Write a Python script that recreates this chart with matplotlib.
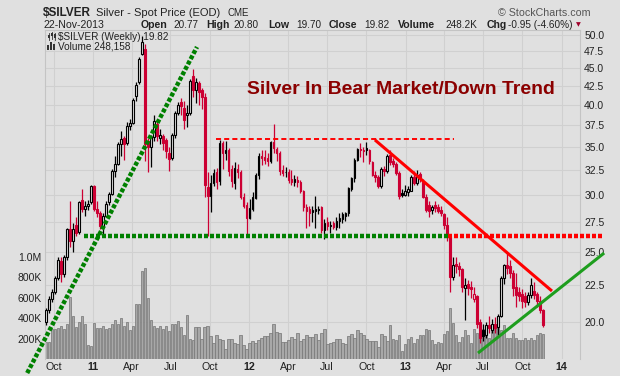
import matplotlib
matplotlib.use('Agg')
import matplotlib.pyplot as plt
import matplotlib.dates as mdates
from matplotlib.transforms import blended_transform_factory
from matplotlib.ticker import NullLocator, FixedLocator, FixedFormatter
from matplotlib.lines import Line2D
from matplotlib.patches import Rectangle
import pandas as pd

plt.rcParams['font.family'] = ['Liberation Sans', 'DejaVu Sans']

W, H = 620, 376
BG = '#e0e0e0'
GRID = '#d0d0d0'
RED = '#cc0033'
TXT = '#222222'

# ---------------- data (weekly, $SILVER) ----------------
first_week = '2010-09-13'
opens = [20.0, 20.8, 21.5, 22.0, 23.0, 24.3, 23.3, 24.6, 26.9, 25.9,
         27.3, 26.7, 29.5, 28.7, 29.0, 29.3, 30.9, 28.7, 28.3, 27.1,
         28.1, 29.3, 30.1, 32.4, 33.1, 35.3, 36.0, 35.4, 37.4, 37.8,
         41.2, 43.0, 47.1, 47.8, 35.6, 35.0, 36.1, 37.6, 36.0, 36.2,
         35.8, 34.3, 33.8, 36.4, 39.0, 40.4, 39.6, 38.7, 39.0, 43.9,
         42.0, 42.9, 41.9, 41.0, 30.8, 29.9, 31.2, 32.3, 31.4, 35.4,
         34.3, 34.6, 32.6, 31.2, 32.6, 32.3, 29.8, 29.1, 27.9, 28.7,
         29.7, 32.0, 34.0, 33.9, 33.8, 33.4, 35.5, 34.8, 34.3, 32.5,
         32.25, 32.3, 31.6, 31.3, 31.5, 31.3, 30.4, 28.9, 28.7, 28.4,
         28.5, 28.6, 28.9, 26.8, 27.5, 27.2, 27.4, 27.1, 27.6, 27.8,
         28.1, 28.3, 30.6, 31.7, 33.6, 34.8, 34.6, 34.9, 34.6, 33.3,
         32.0, 31.8, 30.9, 32.6, 32.4, 34.1, 33.4, 33.1, 32.2, 30.2,
         30.0, 30.3, 30.4, 31.8, 31.2, 32.1, 31.3, 29.8, 29.1, 28.6,
         29.1, 28.9, 28.6, 28.2, 27.3, 26.2, 23.1, 24.1, 23.9, 23.7,
         22.3, 22.6, 22.4, 21.5, 21.7, 20.0, 19.5, 19.2, 19.8, 19.5,
         19.9, 19.7, 20.4, 23.0, 24.0, 23.9, 23.4, 22.4, 22.0, 21.9,
         21.7, 21.3, 21.8, 22.1, 21.9, 21.4, 20.77]
highs = [20.9, 21.7, 22.2, 23.2, 24.6, 24.6, 24.8, 27.0, 29.4, 27.4,
         28.0, 29.4, 30.6, 29.4, 29.5, 31.0, 31.0, 29.4, 28.5, 28.3,
         29.4, 30.3, 32.6, 34.0, 35.5, 36.8, 36.2, 37.9, 38.2, 40.9,
         43.0, 46.7, 49.8, 48.6, 36.0, 36.4, 38.7, 38.3, 37.0, 36.5,
         36.0, 35.0, 36.6, 39.3, 40.4, 40.9, 40.5, 40.0, 43.4, 44.9,
         43.6, 43.2, 42.2, 41.5, 32.3, 32.0, 32.6, 32.7, 35.8, 35.6,
         35.7, 34.9, 33.0, 33.3, 33.1, 32.5, 30.2, 29.3, 29.6, 30.3,
         32.2, 34.3, 34.6, 34.6, 34.3, 35.6, 37.6, 35.0, 34.5, 33.0,
         32.8, 32.6, 32.5, 32.0, 31.9, 31.5, 30.5, 29.2, 29.0, 29.0,
         29.9, 29.0, 29.0, 27.8, 28.0, 27.6, 27.6, 28.0, 28.3, 28.4,
         28.4, 30.8, 31.8, 33.8, 34.9, 35.4, 35.0, 35.5, 34.8, 33.5,
         32.4, 32.0, 32.8, 32.9, 34.2, 34.6, 33.8, 33.3, 32.4, 30.6,
         31.0, 30.9, 32.0, 32.4, 32.5, 32.3, 31.6, 30.1, 29.4, 29.1,
         29.4, 29.2, 29.0, 28.3, 28.0, 26.4, 24.6, 24.6, 24.2, 23.8,
         23.0, 22.9, 22.8, 22.4, 21.8, 20.2, 19.9, 20.0, 20.4, 20.2,
         20.3, 20.5, 23.2, 24.1, 25.0, 24.4, 23.6, 23.4, 22.4, 22.2,
         22.0, 22.0, 23.0, 22.7, 22.0, 21.7, 20.85]
lows = [19.8, 20.6, 21.3, 21.9, 22.9, 22.7, 23.1, 24.4, 25.4, 25.0,
        26.3, 26.5, 28.4, 28.1, 28.6, 29.2, 28.5, 28.0, 26.9, 26.4,
        28.0, 29.1, 30.0, 31.8, 33.0, 34.0, 33.6, 35.2, 36.9, 37.6,
        40.5, 42.8, 46.9, 33.4, 32.3, 32.8, 35.7, 35.6, 35.3, 34.6,
        33.8, 32.4, 33.6, 36.0, 38.8, 38.8, 37.0, 37.3, 38.8, 41.0,
        40.2, 40.0, 39.5, 29.8, 26.3, 28.4, 30.9, 30.6, 31.0, 32.6,
        33.6, 31.9, 30.8, 30.6, 31.7, 29.6, 28.8, 26.2, 27.8, 28.5,
        29.6, 31.6, 33.0, 33.1, 32.9, 33.2, 34.3, 33.5, 32.0, 31.9,
        31.8, 31.2, 31.0, 30.9, 30.8, 30.2, 28.5, 27.0, 27.2, 27.5,
        27.0, 28.2, 26.6, 26.1, 26.8, 26.6, 26.9, 26.8, 27.0, 27.4,
        27.6, 28.1, 30.4, 31.3, 33.4, 33.9, 33.3, 34.1, 33.1, 31.9,
        31.3, 30.7, 30.7, 31.9, 32.2, 33.0, 32.8, 32.0, 29.6, 29.8,
        29.9, 29.9, 30.4, 31.0, 31.0, 31.3, 29.7, 28.4, 28.0, 28.2,
        28.4, 28.3, 28.1, 26.9, 25.9, 22.0, 22.9, 23.4, 23.2, 22.0,
        20.1, 21.8, 21.6, 21.3, 19.6, 18.7, 18.8, 19.0, 19.3, 19.3,
        19.3, 19.2, 20.3, 22.6, 23.3, 23.0, 21.7, 21.0, 21.4, 20.9,
        21.0, 21.1, 21.6, 21.5, 21.0, 20.6, 19.70]
closes = [20.8, 21.5, 22.0, 23.0, 24.4, 23.3, 24.6, 26.9, 25.9, 26.9,
          26.6, 29.3, 28.7, 29.0, 29.2, 30.9, 28.7, 28.3, 27.2, 28.1,
          29.2, 30.1, 32.4, 33.1, 35.3, 35.9, 35.3, 37.4, 37.8, 40.7,
          42.6, 46.4, 48.9, 35.3, 35.0, 36.1, 38.0, 36.2, 36.3, 35.4,
          34.5, 33.7, 36.4, 39.0, 40.0, 39.9, 38.1, 39.0, 43.2, 42.0,
          43.1, 41.7, 41.0, 31.0, 29.9, 31.2, 32.2, 31.3, 35.4, 34.3,
          34.7, 32.4, 31.4, 32.7, 32.3, 29.8, 29.0, 27.9, 28.8, 29.8,
          32.0, 34.0, 33.8, 33.6, 33.4, 35.5, 34.9, 34.3, 32.4, 32.2,
          32.3, 31.5, 31.3, 31.6, 31.3, 30.4, 28.9, 28.5, 28.3, 28.6,
          28.65, 28.7, 26.8, 27.4, 27.2, 27.3, 27.1, 27.6, 27.9, 28.2,
          28.3, 30.7, 31.7, 33.6, 34.8, 34.6, 34.5, 34.6, 33.4, 32.0,
          31.8, 30.9, 32.6, 32.4, 34.0, 33.3, 33.1, 32.2, 29.9, 30.0,
          30.4, 30.6, 31.8, 31.2, 32.0, 31.7, 29.8, 28.6, 28.5, 28.9,
          28.8, 28.5, 28.3, 27.3, 26.3, 23.1, 24.0, 23.9, 23.7, 22.4,
          22.5, 22.3, 22.2, 21.9, 19.9, 19.0, 19.1, 19.8, 19.6, 19.9,
          19.6, 20.4, 23.0, 24.0, 23.8, 23.4, 22.3, 21.8, 21.7, 21.4,
          21.3, 21.8, 22.5, 21.8, 21.4, 20.77, 19.82]
volumes_k = [166, 166, 296, 296, 305, 318, 296, 345, 605, 416,
             312, 357, 416, 345, 140, 130, 351, 302, 302, 318,
             296, 302, 345, 377, 338, 400, 318, 360, 286, 320,
             540, 540, 855, 890, 598, 377, 325, 302, 325, 293,
             325, 273, 345, 345, 370, 312, 231, 432, 198, 182,
             312, 312,
             200, 315, 325, 224, 153, 230, 200, 185, 94, 192,
             200, 160, 143, 230, 133, 100, 153, 172, 153, 185,
             208, 227, 224, 250, 338, 260, 250, 162, 162, 185,
             218, 195, 250, 179, 192, 230, 211, 211, 240, 185,
             250, 289, 143, 156, 162, 192, 192, 153, 143, 224,
             240, 208, 283, 257, 230, 200, 175, 175, 175, 120,
             240, 224, 175, 328, 200, 185, 230, 81, 143,
             200, 215,
             159, 192, 234, 234, 289, 283, 185, 143, 169, 153,
             240, 270, 494, 348, 234, 169, 218, 283, 234, 153,
             289, 257, 201, 289, 266, 201, 315, 299, 338, 283,
             331, 201, 201, 250, 201, 185, 185, 201, 185, 201,
             185, 234, 250,
             248]

quarter_dates = ['2010-10-01', '2011-01-01', '2011-04-01', '2011-07-01',
                 '2011-10-01', '2012-01-01', '2012-04-01', '2012-07-01',
                 '2012-10-01', '2013-01-01', '2013-04-01', '2013-07-01',
                 '2013-10-01', '2014-01-01']
quarter_labels = ['Oct', '11', 'Apr', 'Jul', 'Oct', '12', 'Apr', 'Jul',
                  'Oct', '13', 'Apr', 'Jul', 'Oct', '14']
price_ticks = [20.0, 22.5, 25.0, 27.5, 30.0, 32.5, 35.0, 37.5, 40.0,
               42.5, 45.0, 47.5, 50.0]
volume_ticks = [200e3, 400e3, 600e3, 800e3, 1.0e6]
volume_labels = ['200K', '400K', '600K', '800K', '1.0M']

# trend-line annotations (date, price)
uptrend_dates = ['2010-07-31', '2011-09-01']
uptrend_prices = [16.99, 48.15]
support_dates = ['2010-12-10', '2013-04-10']
broken_support_dates = ['2013-04-10', '2014-04-10']
support_level = 26.3
resist_dates = ['2011-10-15', '2013-04-24']
resist_level = 35.9
down_dates = ['2012-10-21', '2013-12-09']
down_prices = [35.78, 22.08]
rising_dates = ['2013-06-19', '2014-04-10']
rising_prices = [18.11, 24.93]

# ---------------- figure ----------------
fig = plt.figure(figsize=(W / 100, H / 100), dpi=100, facecolor=BG)


def fx(x):
    return x / W


def fy(y):
    return 1 - y / H


L, R, T, B = 45, 580, 30, 359
rect = [fx(L), fy(B), (R - L) / W, (B - T) / H]
axv = fig.add_axes(rect)
ax = fig.add_axes(rect, sharex=axv)
axv.set_zorder(0)
ax.set_zorder(1)
ax.patch.set_visible(False)
axv.set_facecolor(BG)

dates = pd.date_range(first_week, periods=len(closes), freq='W-MON')
xd = mdates.date2num(dates)
px_per_day = 0.4277
x0 = xd[0] - 1.0 / px_per_day
x1 = x0 + (R - L) / px_per_day
axv.set_xlim(x0, x1)

# volume
vols = [v * 1000 for v in volumes_k]
axv.bar(xd, vols, width=5.6, color='#a8a8a8', edgecolor='#7a7a7a',
        linewidth=0.55, zorder=2)
axv.set_ylim(0, 3.21e6)

# price candles
ax.set_yscale('log')
ax.set_ylim(17.77, 50.83)
cols, faces, bottoms, heights = [], [], [], []
for i in range(len(closes)):
    prev = closes[i - 1] if i > 0 else opens[i]
    c = 'black' if closes[i] >= prev else RED
    cols.append(c)
    faces.append(BG if closes[i] > opens[i] else c)
    lo, hi = min(opens[i], closes[i]), max(opens[i], closes[i])
    bottoms.append(lo)
    heights.append(max(hi - lo, 0.03))
ax.vlines(xd, lows, highs, colors=cols, linewidth=0.9, zorder=2)
ax.bar(xd, heights, bottom=bottoms, width=3.9, color=faces,
       edgecolor=cols, linewidth=0.8, zorder=3)

# grids
for q in quarter_dates:
    axv.axvline(mdates.date2num(pd.Timestamp(q)), color=GRID, lw=0.8, zorder=0.5)
hgrid_tr = blended_transform_factory(axv.transAxes, ax.transData)
for p in price_ticks:
    axv.plot([0, 1], [p, p], transform=hgrid_tr, color=GRID, lw=0.8, zorder=0.5)

# ticks
qnum = [mdates.date2num(pd.Timestamp(q)) for q in quarter_dates]
axv.xaxis.set_major_locator(FixedLocator(qnum))
axv.xaxis.set_major_formatter(FixedFormatter(quarter_labels))
axv.tick_params(axis='x', length=0, pad=2.5, labelsize=7.7, labelcolor=TXT)
for lab, txt in zip(axv.get_xticklabels(), quarter_labels):
    if txt.isdigit():
        lab.set_fontweight('bold')
ax.tick_params(axis='x', bottom=False, labelbottom=False)

axv.yaxis.set_major_locator(FixedLocator(volume_ticks))
axv.yaxis.set_major_formatter(FixedFormatter(volume_labels))
axv.tick_params(axis='y', length=0, pad=2.5, labelsize=7.5, labelcolor=TXT)

ax.yaxis.tick_right()
ax.yaxis.set_major_locator(FixedLocator(price_ticks))
ax.yaxis.set_major_formatter(FixedFormatter(['%.1f' % p for p in price_ticks]))
ax.yaxis.set_minor_locator(NullLocator())
ax.tick_params(axis='y', which='both', length=0, pad=3, labelsize=7.5,
               labelcolor=TXT)

for s in ax.spines.values():
    s.set_visible(False)
for k, s in axv.spines.items():
    s.set_color('#c4c4c4')
    s.set_linewidth(0.8)
axv.spines['right'].set_linestyle((0, (1, 1)))
axv.spines['bottom'].set_visible(False)

# trend lines
def dn(lst):
    return [mdates.date2num(pd.Timestamp(d)) for d in lst]

dot = (0, (0.9, 0.45))
ax.plot(dn(uptrend_dates), uptrend_prices, color='#008000', lw=3.2,
        linestyle=dot, dash_capstyle='butt', zorder=5, clip_on=False)
ax.plot(dn(support_dates), [support_level] * 2, color='#008000', lw=3.2,
        linestyle=dot, dash_capstyle='butt', zorder=5)
ax.plot(dn(broken_support_dates), [support_level] * 2, color='#ff0000', lw=3.2,
        linestyle=dot, dash_capstyle='butt', zorder=5, clip_on=False)
ax.plot(dn(resist_dates), [resist_level] * 2, color='#ff0000', lw=1.4,
        linestyle=(0, (2.6, 1.6)), dash_capstyle='butt', zorder=5)
ax.plot(dn(down_dates), down_prices, color='#ff0000', lw=2.2,
        solid_capstyle='butt', zorder=5)
ax.plot(dn(rising_dates), rising_prices, color='#1e9e1e', lw=2.2,
        solid_capstyle='butt', zorder=5, clip_on=False)

ax.text(fx(247), fy(93.5), 'Silver In Bear Market/Down Trend',
        transform=fig.transFigure, fontsize=13.95, fontweight='bold',
        color='#8b0000', va='baseline', ha='left', zorder=6)

# header texts
def T(x, y, s, **kw):
    kw.setdefault('color', TXT)
    kw.setdefault('va', 'baseline')
    fig.text(fx(x), fy(y), s, **kw)

T(43, 16, '$SILVER', fontsize=8.5, fontweight='bold')
T(96, 16, 'Silver - Spot Price (EOD)', fontsize=8)
T(227, 16, 'CME', fontsize=7)
T(590, 16, '\u00a9 StockCharts.com', fontsize=7.7, ha='right', color='#555555')
T(43, 27.5, '22-Nov-2013', fontsize=7.6)
hdr = [(141, 'Open', True), (173, '20.77', False), (206, 'High', True),
       (233, '20.80', False), (268, 'Low', True), (296, '19.70', False),
       (329, 'Close', True), (364, '19.82', False), (398, 'Volume', True),
       (445, '248.2K', False), (487, 'Chg', True), (508, '-0.95 (-4.60%)', False)]
for x, s, b in hdr:
    T(x, 27.5, s, fontsize=7.6 if b else 7.2, fontweight='bold' if b else 'normal')
T(575.5, 26.5, '\u25bc', fontsize=4.5, color='#a0002a', family='DejaVu Sans')

# legend
T(58, 39.5, '$SILVER (Weekly) 19.82', fontsize=7.2)
T(58, 49.5, 'Volume 248,158', fontsize=7.2)
for xx, y0, y1, b0, b1 in [(48.5, 33, 40, 35, 38), (51.5, 32, 39, 33, 36), (54.5, 33, 40, 34, 38)]:
    fig.add_artist(Line2D([fx(xx)] * 2, [fy(y0), fy(y1)], color='#333333',
                          lw=0.6, transform=fig.transFigure))
    fig.add_artist(Rectangle((fx(xx - 1), fy(b1)), 2 / W, (b1 - b0) / H,
                             facecolor='#333333', edgecolor='none',
                             transform=fig.transFigure))
for xx, hh in [(47, 5), (50, 8), (53, 6)]:
    fig.add_artist(Rectangle((fx(xx), fy(50)), 2 / W, hh / H,
                             facecolor='#333333', edgecolor='none',
                             transform=fig.transFigure))

fig.savefig('out.png', dpi=100, facecolor=BG)
